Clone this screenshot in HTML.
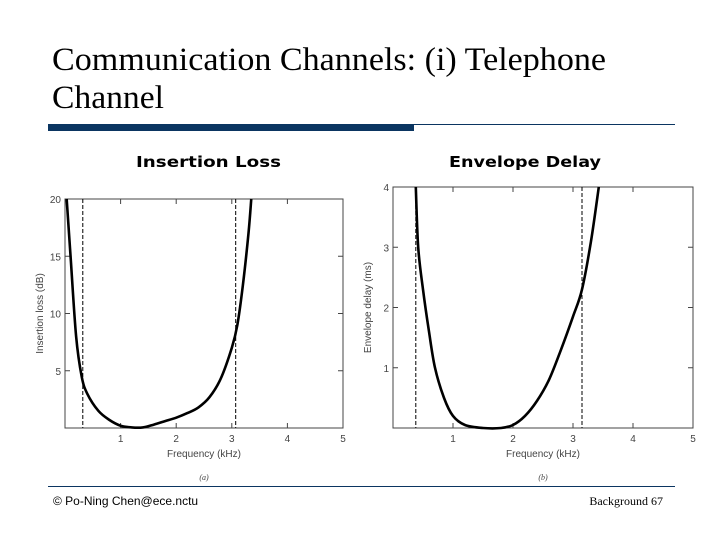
<!DOCTYPE html>
<html><head><meta charset="utf-8"><style>
html,body{margin:0;padding:0;background:#fff}
svg{display:block}
</style></head><body>
<svg width="720" height="540" viewBox="0 0 720 540" xmlns="http://www.w3.org/2000/svg" font-family="Liberation Sans, sans-serif">
<g font-family="Liberation Serif, serif" font-size="33" fill="#000">
<text x="52" y="70" textLength="554" lengthAdjust="spacingAndGlyphs">Communication Channels: (i) Telephone</text>
<text x="52" y="108" textLength="112" lengthAdjust="spacingAndGlyphs">Channel</text>
</g>
<rect x="48" y="124" width="366" height="7" fill="#0b3561"/>
<line x1="414" y1="124.5" x2="675" y2="124.5" stroke="#0b3561" stroke-width="1"/>
<text x="136" y="167" textLength="145" lengthAdjust="spacingAndGlyphs" font-family="DejaVu Sans, sans-serif" font-weight="bold" font-size="15">Insertion Loss</text>
<text x="449" y="167" textLength="152" lengthAdjust="spacingAndGlyphs" font-family="DejaVu Sans, sans-serif" font-weight="bold" font-size="15">Envelope Delay</text>
<g id="chartA"></g>
<g id="chartB"></g>
<line x1="48" y1="486.5" x2="675" y2="486.5" stroke="#0b3561" stroke-width="1"/>
<text x="53" y="505" font-size="12">© Po-Ning Chen@ece.nctu</text>
<text x="663" y="505" text-anchor="end" font-family="Liberation Serif, serif" font-size="12">Background 67</text>
</svg>
<script>
const xTicks = [1, 2, 3, 4, 5];
const lossTicks = [5, 10, 15, 20];
const delayTicks = [1, 2, 3, 4];
const lossFreq = [0.03,0.1,0.2,0.3,0.4,0.6,0.8,1.0,1.2,1.4,1.6,1.8,2.0,2.2,2.4,2.6,2.8,3.0,3.1,3.2,3.3,3.35];
const lossVal  = [20,15,8,4.5,3,1.5,0.7,0.2,0.05,0.05,0.3,0.6,0.9,1.3,1.8,2.7,4.3,7,9,12.5,17,20];
const delayFreq = [0.38,0.42,0.5,0.6,0.7,0.85,1.0,1.2,1.5,1.8,2.0,2.2,2.4,2.6,2.8,3.0,3.15,3.3,3.43];
const delayVal  = [4,3,2.3,1.6,1.0,0.5,0.2,0.05,0,0,0.05,0.2,0.45,0.8,1.3,1.85,2.3,3.1,4];
const lossCutoffs = [0.32, 3.07];
const delayCutoffs = [0.38, 3.15];
const NS='http://www.w3.org/2000/svg';
function mk(parent,tag,attrs){const e=document.createElementNS(NS,tag);for(const k in attrs)e.setAttribute(k,attrs[k]);parent.appendChild(e);return e;}
function catmull(pts){let d='M'+pts[0][0]+','+pts[0][1];for(let i=0;i<pts.length-1;i++){const p0=pts[i-1]||pts[i],p1=pts[i],p2=pts[i+1],p3=pts[i+2]||p2;d+=' C'+(p1[0]+(p2[0]-p0[0])/6)+','+(p1[1]+(p2[1]-p0[1])/6)+' '+(p2[0]-(p3[0]-p1[0])/6)+','+(p2[1]-(p3[1]-p1[1])/6)+' '+p2[0]+','+p2[1];}return d;}
function chart(g,L,R,T,B,ymax,yt,xs,ys,cuts,ylabel,cap,nameKey){
  const X=v=>L+(v/5)*(R-L), Y=v=>B-(v/ymax)*(B-T);
  const frame=mk(g,'rect',{x:L,y:T,width:R-L,height:B-T,fill:'none',stroke:'#444','stroke-width':1});
  
  
  xTicks.forEach(t=>{
    mk(g,'line',{x1:X(t),x2:X(t),y1:B,y2:B-5,stroke:'#444'});mk(g,'line',{x1:X(t),x2:X(t),y1:T,y2:T+5,stroke:'#444'});
    const tx=mk(g,'text',{x:X(t),y:B+14,'text-anchor':'middle','font-size':10,fill:'#444'});tx.textContent=t;
    
    
  });
  yt.forEach(t=>{
    mk(g,'line',{x1:L,x2:L+5,y1:Y(t),y2:Y(t),stroke:'#444'});mk(g,'line',{x1:R,x2:R-5,y1:Y(t),y2:Y(t),stroke:'#444'});
    const tx=mk(g,'text',{x:L-4,y:Y(t)+4,'text-anchor':'end','font-size':10,fill:'#444'});tx.textContent=t;
    
    
  });
  cuts.forEach(c=>{
    const l=mk(g,'line',{x1:X(c),x2:X(c),y1:T,y2:B,stroke:'#000','stroke-width':1,'stroke-dasharray':'4,2'});
    
    
  });
  const pts=xs.map((x,i)=>[X(x),Y(ys[i])]);
  const p=mk(g,'path',{d:catmull(pts),fill:'none',stroke:'#000','stroke-width':2.6,'stroke-linejoin':'round'});
  
  
  const xl=mk(g,'text',{x:(L+R)/2,y:B+29,'text-anchor':'middle','font-size':10,fill:'#444'});xl.textContent='Frequency (kHz)';
  
  
  const yl=mk(g,'text',{x:0,y:0,'text-anchor':'middle','font-size':10,fill:'#444',transform:'translate('+(L-22)+','+((T+B)/2)+') rotate(-90)'});yl.textContent=ylabel;
  
  
  const c=mk(g,'text',{x:(L+R)/2,y:B+52,'text-anchor':'middle','font-size':8,'font-style':'italic','font-family':'Liberation Serif, serif',fill:'#444'});c.textContent=cap;
  
  
}
chart(document.getElementById('chartA'),65,343,199,428,20,lossTicks,lossFreq,lossVal,lossCutoffs,'Insertion loss (dB)','(a)','loss');
chart(document.getElementById('chartB'),393,693,187,428,4,delayTicks,delayFreq,delayVal,delayCutoffs,'Envelope delay (ms)','(b)','delay');
</script>
</body></html>
